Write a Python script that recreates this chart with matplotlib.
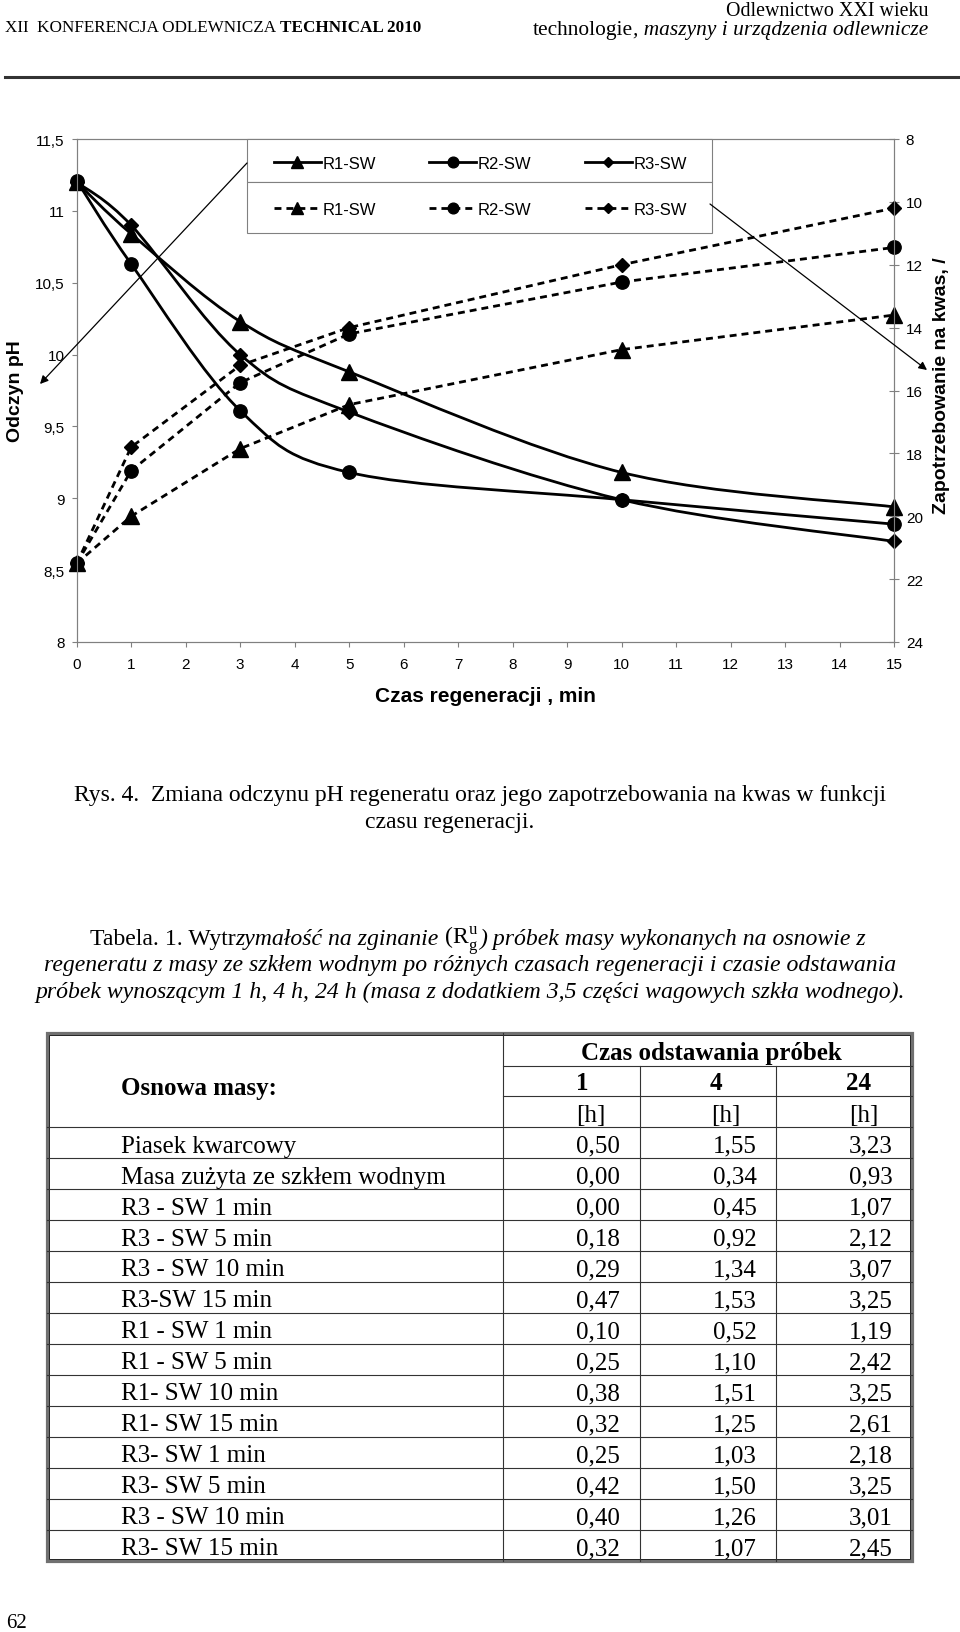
import matplotlib
matplotlib.use('Agg')
import matplotlib.pyplot as plt
from matplotlib.path import Path
from matplotlib.patches import PathPatch, Rectangle, FancyArrowPatch
from matplotlib.lines import Line2D

# Chart data
czas = [0, 1, 3, 5, 10, 15]
ph_r1 = [11.2, 10.84, 10.23, 9.88, 9.18, 8.94]
ph_r2 = [11.21, 10.63, 9.61, 9.18, 8.99, 8.82]
ph_r3 = [11.2, 10.9, 10.0, 9.6, 8.99, 8.70]
kwas_r1 = [21.5, 20.0, 17.85, 16.45, 14.7, 13.6]
kwas_r2 = [21.5, 18.55, 15.75, 14.2, 12.55, 11.45]
kwas_r3 = [21.5, 17.8, 15.2, 14.0, 12.0, 10.2]
serie = ['R1-SW', 'R2-SW', 'R3-SW']
ph_ticks = [8, 8.5, 9, 9.5, 10, 10.5, 11, 11.5]
ph_labels = ['8', '8,5', '9', '9,5', '10', '10,5', '11', '11,5']
kwas_ticks = [8, 10, 12, 14, 16, 18, 20, 22, 24]

# Table data
osnowa = ['Piasek kwarcowy', 'Masa zużyta ze szkłem wodnym', 'R3 - SW 1 min', 'R3 - SW 5 min',
          'R3 - SW 10 min', 'R3-SW 15 min', 'R1 - SW 1 min', 'R1 - SW 5 min', 'R1- SW 10 min',
          'R1- SW 15 min', 'R3- SW 1 min', 'R3- SW 5 min', 'R3 - SW 10 min', 'R3- SW 15 min']
rg_1h = [0.50, 0.00, 0.00, 0.18, 0.29, 0.47, 0.10, 0.25, 0.38, 0.32, 0.25, 0.42, 0.40, 0.32]
rg_4h = [1.55, 0.34, 0.45, 0.92, 1.34, 1.53, 0.52, 1.10, 1.51, 1.25, 1.03, 1.50, 1.26, 1.07]
rg_24h = [3.23, 0.93, 1.07, 2.12, 3.07, 3.25, 1.19, 2.42, 3.25, 2.61, 2.18, 3.25, 3.01, 2.45]
czasy_odst = ['1', '4', '24']

W, H = 960, 1633
GRAY = '#808080'
SERIF = 'Liberation Serif'
plt.rcParams['font.family'] = 'Liberation Sans'


def fx(x):
    return x / W


def fy(y):
    return 1 - y / H


def smooth_path(xs, ys):
    # Excel-like smoothed line (Catmull-Rom as cubic Bezier)
    n = len(xs)
    verts = [(xs[0], ys[0])]
    codes = [Path.MOVETO]
    for i in range(n - 1):
        xa, ya = (xs[i - 1], ys[i - 1]) if i > 0 else (xs[i], ys[i])
        xb, yb = (xs[i + 2], ys[i + 2]) if i + 2 < n else (xs[i + 1], ys[i + 1])
        c1 = (xs[i] + (xs[i + 1] - xa) / 6, ys[i] + (ys[i + 1] - ya) / 6)
        c2 = (xs[i + 1] - (xb - xs[i]) / 6, ys[i + 1] - (yb - ys[i]) / 6)
        verts += [c1, c2, (xs[i + 1], ys[i + 1])]
        codes += [Path.CURVE4] * 3
    return Path(verts, codes)


fig = plt.figure(figsize=(9.6, 16.33), dpi=100)
renderer = fig.canvas.get_renderer()


def seq_text(x, y, pieces, ha='left', **common):
    # several text pieces in a row on one baseline
    arts = [fig.text(0, fy(y), s, va='baseline', ha='left', **common, **st) for s, st in pieces]
    widths = [a.get_window_extent(renderer).width for a in arts]
    total = sum(widths)
    start = {'left': x, 'right': x - total, 'center': x - total / 2}[ha]
    for a, w in zip(arts, widths):
        a.set_x(fx(start))
        start += w
    return arts


REG = {}
ITA = {'style': 'italic'}
BOLD = {'weight': 'bold'}

# Page header
seq_text(5, 31.7, [('XII  KONFERENCJA ODLEWNICZA', REG), (' TECHNICAL 2010', BOLD)],
         family=SERIF, fontsize=12.3)
fig.text(fx(928), fy(16.5), 'Odlewnictwo XXI wieku', ha='right', va='baseline',
         family=SERIF, fontsize=14.4)
seq_text(928, 35, [('technologie', REG), (', maszyny i urządzenia odlewnicze', ITA)], ha='right',
         family=SERIF, fontsize=15.4)
fig.add_artist(Line2D([fx(5), fx(958)], [fy(78), fy(78)], lw=2.2, color='#333333'))

# Chart
ax = fig.add_axes([fx(76.7), fy(643), (894 - 76.7) / W, (643 - 140) / H])
ax.set_xlim(0, 15)
ax.set_ylim(8, 11.5)
ax.set_xticks(range(16))
ax.set_yticks(ph_ticks)
ax.set_yticklabels(ph_labels)
ax.tick_params(axis='y', direction='out', length=3.6, width=0.8, color=GRAY, labelsize=11, pad=5)
ax.tick_params(axis='x', direction='out', length=3.6, width=0.8, color=GRAY, labelsize=11, pad=7)
for s in ax.spines.values():
    s.set_color(GRAY)
    s.set_linewidth(0.8)

ax2 = ax.twinx()
ax2.set_ylim(24, 8)
ax2.set_yticks(kwas_ticks)
ax2.tick_params(axis='y', direction='inout', length=7, width=0.8, color=GRAY, labelsize=11, pad=5)
for s in ax2.spines.values():
    s.set_color(GRAY)
    s.set_linewidth(0.8)

markers = ['^', 'o', 'D']
ms_plot = {'^': 11, 'o': 9.6, 'D': 7.2}
ms_leg = {'^': 8.4, 'o': 7.7, 'D': 5.4}
dash = (0, (2.5, 1.8))

for ph, m in zip([ph_r1, ph_r2, ph_r3], markers):
    ax.add_patch(PathPatch(smooth_path(czas, ph), fill=False, lw=2, ec='black', clip_on=False, zorder=3))
    ax.plot(czas, ph, ls='none', marker=m, ms=ms_plot[m], color='black', clip_on=False, zorder=4)

for kw, m in zip([kwas_r1, kwas_r2, kwas_r3], markers):
    ax2.plot(czas, kw, ls=dash, lw=2, marker=m, ms=ms_plot[m], color='black', clip_on=False)

fig.text(fx(16), fy(391), 'Odczyn pH', rotation=90, ha='center', va='center', fontsize=14, weight='bold')
fig.text(fx(941.7), fy(386), 'Zapotrzebowanie na kwas, /', rotation=90, ha='center', va='center',
         fontsize=14, weight='bold')
fig.text(fx(485), fy(697), 'Czas regeneracji , min', ha='center', va='center', fontsize=15, weight='bold')

# Legend boxes (two stacked legends)
for y0, y1 in [(140, 183.3), (183.3, 234)]:
    fig.add_artist(Rectangle((fx(247), fy(y1)), (712 - 247) / W, (y1 - y0) / H, transform=fig.transFigure,
                             facecolor='white', edgecolor=GRAY, lw=0.8))

solid_h = [Line2D([], [], color='black', lw=2, marker=m, ms=ms_leg[m]) for m in markers]
dash_h = [Line2D([], [], color='black', lw=2, ls=dash, marker=m, ms=ms_leg[m]) for m in markers]
for handles, yc in [(solid_h, 164.3), (dash_h, 210.7)]:
    fig.legend(handles, serie, loc='center', bbox_to_anchor=(fx(480.5), fy(yc)), frameon=False, ncol=3,
               handlelength=2.8, handletextpad=0.12, columnspacing=3.2, fontsize=12, borderpad=0)

for a, b in [((247, 164), (40, 385)), ((710, 205), (927, 371))]:
    fig.add_artist(FancyArrowPatch((fx(a[0]), fy(a[1])), (fx(b[0]), fy(b[1])), transform=fig.transFigure,
                                   arrowstyle='-|>', mutation_scale=12, lw=0.9, color='black',
                                   shrinkA=0, shrinkB=0))

# Captions
fig.text(fx(480), fy(801.5), 'Rys. 4.  Zmiana odczynu pH regeneratu oraz jego zapotrzebowania na kwas w funkcji',
         ha='center', va='baseline', family=SERIF, fontsize=17)
fig.text(fx(450), fy(828), 'czasu regeneracji.', ha='center', va='baseline', family=SERIF, fontsize=17)

CAP = 17.15
seq_text(477.5, 945, [('Tabela. 1. Wytr', REG), ('zymałość na zginanie', ITA),
                      (r' (R$_\mathregular{g}^\mathregular{u}$', REG),
                      (') próbek masy wykonanych na osnowie z', ITA)],
         ha='center', family=SERIF, fontsize=CAP)
fig.text(fx(470.5), fy(971.5),
         'regeneratu z masy ze szkłem wodnym po różnych czasach regeneracji i czasie odstawania',
         ha='center', va='baseline', family=SERIF, style='italic', fontsize=CAP)
fig.text(fx(470.5), fy(998.5),
         'próbek wynoszącym 1 h, 4 h, 24 h (masa z dodatkiem 3,5 części wagowych szkła wodnego).',
         ha='center', va='baseline', family=SERIF, style='italic', fontsize=CAP)

# Table
LINE = '#333333'


def hline(y, x0, x1, **kw):
    fig.add_artist(Line2D([fx(x0), fx(x1)], [fy(y), fy(y)], **kw))


def vline(x, y0, y1, **kw):
    fig.add_artist(Line2D([fx(x), fx(x)], [fy(y0), fy(y1)], **kw))


L, R, T, B = 47, 912, 1034.4, 1561.8
row_top = 1128.3
row_h = (1561.5 - row_top) / len(osnowa)
col_x = [503.4, 640, 776]

fig.add_artist(Rectangle((fx(L), fy(B)), (R - L) / W, (B - T) / H, transform=fig.transFigure,
                         fill=False, edgecolor='#707070', lw=2.3))
fig.add_artist(Rectangle((fx(L + 2.3), fy(B - 2)), (R - L - 4.3) / W, (B - T - 4) / H,
                         transform=fig.transFigure, fill=False, edgecolor='#222222', lw=0.7))
vline(col_x[0], T, B, color=LINE, lw=0.8)
for cx in col_x[1:]:
    vline(cx, 1066.7, B, color=LINE, lw=0.8)
hline(1066.7, col_x[0], R, color=LINE, lw=0.8)
hline(1096.7, col_x[0], R, color=LINE, lw=0.8)
for i in range(len(osnowa)):
    hline(row_top + i * row_h, L, R, color=LINE, lw=0.8)

fig.text(fx(120.6), fy(1095), 'Osnowa masy:', va='baseline', family=SERIF, fontsize=18, weight='bold')
fig.text(fx(711.7), fy(1060), 'Czas odstawania próbek', ha='center', va='baseline', family=SERIF,
         fontsize=18, weight='bold')
for cx, lab in zip([582, 716, 859], czasy_odst):
    fig.text(fx(cx), fy(1090), lab, ha='center', va='baseline', family=SERIF, fontsize=18, weight='bold')
for cx in [591, 726, 864]:
    fig.text(fx(cx), fy(1122.3), '[h]', ha='center', va='baseline', family=SERIF, fontsize=18)

for i, name in enumerate(osnowa):
    yb = row_top + i * row_h + 24.4
    fig.text(fx(120.6), fy(yb), name, va='baseline', family=SERIF, fontsize=18)
    for xr, vals in zip([620, 757, 893], [rg_1h, rg_4h, rg_24h]):
        fig.text(fx(xr), fy(yb), f'{vals[i]:.2f}'.replace('.', ','), ha='right', va='baseline',
                 family=SERIF, fontsize=18)

fig.text(fx(6), fy(1628.5), '62', va='baseline', family=SERIF, fontsize=15)

fig.savefig('out.png', dpi=100, facecolor='white')
